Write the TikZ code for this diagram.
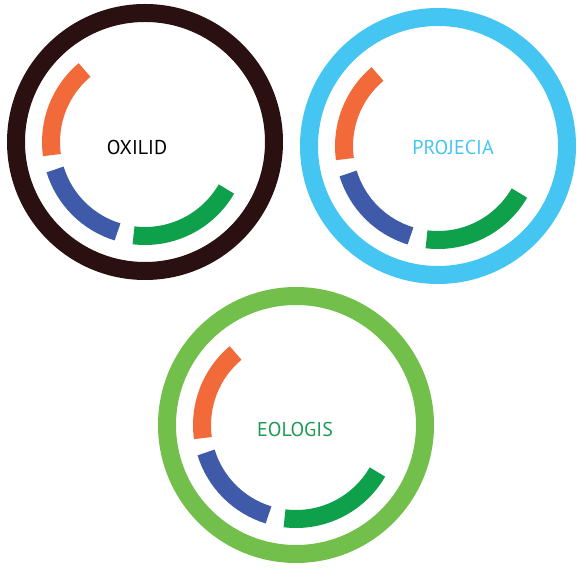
\documentclass[tikz,border=0pt]{standalone}
\usepackage{fontspec}
\setmainfont{PT Sans}
\usetikzlibrary{positioning}

\definecolor{ringbrown}{HTML}{2A1010}
\definecolor{ringblue}{HTML}{45C6F2}
\definecolor{ringgreen}{HTML}{72BF4C}
\definecolor{segorange}{HTML}{F26A3A}
\definecolor{segblue}{HTML}{3E5AA8}
\definecolor{seggreen}{HTML}{0FA04B}
\definecolor{txtgreen}{HTML}{1E9A55}

\tikzset{
  ring/.style={line width=18pt},
  seg/.style={line width=18pt},
  lab/.style={font=\fontsize{20}{22}\selectfont, inner sep=0pt}
}

\begin{document}
\begin{tikzpicture}[x=1pt, y=1pt]
  \useasboundingbox (0, 0) rectangle (586, 578);

  % three rings, each with its three segments and its name
  \foreach \cx / \cy / \rc / \tc / \dx / \dy / \nm / \lab in
      {145/436/ringbrown/black/-8/-6/oxilid/OXILID,
       438/432/ringblue/ringblue/15/-2/projecia/PROJECIA,
       296/153/ringgreen/txtgreen/-1/-5/eologis/EOLOGIS} {
    \begin{scope}[shift={(\cx, \cy)}]
      \draw[ring, \rc] (0, 0) circle[radius=129];
      \draw[seg, segorange] (130:94) arc[start angle=130, end angle=188, radius=94];
      \draw[seg, segblue] (197:94) arc[start angle=197, end angle=253, radius=94];
      \draw[seg, seggreen] (263:94) arc[start angle=263, end angle=330, radius=94];
      \node[lab, text=\tc] (\nm) at (\dx, \dy) {\lab};
    \end{scope}
  }
\end{tikzpicture}
\end{document}
